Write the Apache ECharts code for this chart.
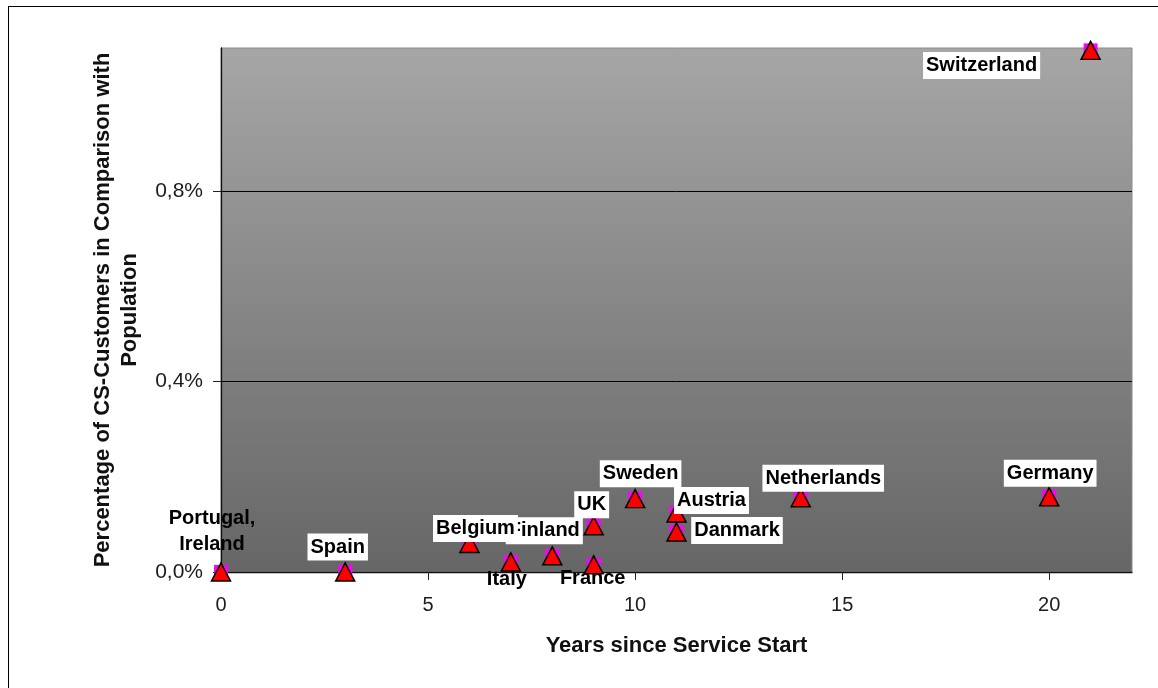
<!DOCTYPE html>
<html>
<head>
<meta charset="utf-8">
<script src="https://cdn.jsdelivr.net/npm/echarts@6/dist/echarts.min.js"></script>
<style>
  html, body { margin: 0; padding: 0; background: #fff; }
  #frame { position: absolute; left: 8px; top: 6px; width: 1200px; height: 800px;
           border-left: 1px solid #000; border-top: 1px solid #000; }
  #chart { position: absolute; left: 0; top: 0; width: 1158px; height: 688px; }
</style>
</head>
<body>
<div id="frame"></div>
<div id="chart"></div>
<script>
// ---- data ----
const countries = ['Portugal,\nIreland', 'Spain', 'Italy', 'Finland', 'Belgium', 'France', 'UK',
                   'Sweden', 'Austria', 'Danmark', 'Netherlands', 'Germany', 'Switzerland'];
const yearsSinceStart = [0, 3, 7, 8, 6, 9, 9, 10, 11, 11, 14, 20, 21];
const customerShare = [0.0, 0.0, 0.021, 0.034, 0.06, 0.015, 0.097, 0.154, 0.124, 0.084, 0.156, 0.158, 1.095];
const yTickValues = [0, 0.4, 0.8];
const xTickValues = [0, 5, 10, 15, 20];

// ---- label layout (offsets in px from each point) ----
const labelLayout = {
  'Portugal,\nIreland': { offset: [-9, -41], box: false },
  'Spain': { offset: [-7.5, -25], box: true },
  'Belgium': { offset: [6, -15], box: true },
  'Italy': { offset: [-4, 17], box: false },
  'Finland': { offset: [-8, -25], box: true },
  'France': { offset: [-1, 14], box: false },
  'UK': { offset: [-2, -21], box: true },
  'Sweden': { offset: [5.5, -25], box: true },
  'Austria': { offset: [35, -12.5], box: true },
  'Danmark': { offset: [60.5, -1.5], box: true },
  'Netherlands': { offset: [22.5, -19.5], box: true },
  'Germany': { offset: [1, -23.5], box: true },
  'Switzerland': { offset: [-109, 15], box: true }
};

const points = countries.map((c, i) => [yearsSinceStart[i], customerShare[i]]);

const triangleData = countries.map((c, i) => {
  const l = labelLayout[c];
  return {
    value: points[i],
    name: c,
    label: {
      show: true,
      position: 'inside',
      offset: l.offset,
      formatter: c,
      lineHeight: l.box ? 22 : 26,
      backgroundColor: l.box ? '#ffffff' : 'transparent',
      padding: l.box ? [3, 3, 2, 3] : 0
    }
  };
});

const chart = echarts.init(document.getElementById('chart'), null, { renderer: 'canvas' });
const fmtPct = v => v.toFixed(1).replace('.', ',') + '%';

chart.setOption({
  animation: false,
  grid: {
    left: 221, right: 26, top: 48, bottom: 116,
    show: true,
    borderColor: '#8a8a8a',
    borderWidth: 1,
    backgroundColor: new echarts.graphic.LinearGradient(0, 0, 0, 1, [
      { offset: 0, color: '#a6a6a6' },
      { offset: 1, color: '#666666' }
    ])
  },
  xAxis: {
    type: 'value',
    min: 0, max: 22, interval: 5,
    name: 'Years since Service Start',
    nameLocation: 'middle',
    nameGap: 63,
    nameTextStyle: { fontFamily: 'Liberation Sans', fontWeight: 'bold', fontSize: 22, color: '#111' },
    axisLine: { show: true, onZero: false, lineStyle: { color: '#111', width: 1.3 } },
    axisTick: { show: true, length: 8, inside: false, customValues: xTickValues, lineStyle: { color: '#222' } },
    axisLabel: { margin: 23, fontFamily: 'Liberation Sans', fontSize: 20, color: '#1c1c1c',
                 customValues: xTickValues, formatter: v => String(v) },
    splitLine: { show: false }
  },
  yAxis: {
    type: 'value',
    min: 0, max: 1.1, interval: 0.4,
    name: 'Percentage of CS-Customers in Comparison with\nPopulation',
    nameLocation: 'middle',
    nameGap: 78,
    nameRotate: 90,
    nameTextStyle: { fontFamily: 'Liberation Sans', fontWeight: 'bold', fontSize: 22, color: '#111', lineHeight: 27, align: 'center' },
    axisLine: { show: true, lineStyle: { color: '#111', width: 1.3 } },
    axisTick: { show: true, length: 8, inside: false, customValues: yTickValues, lineStyle: { color: '#222' } },
    axisLabel: { margin: 18, fontFamily: 'Liberation Sans', fontSize: 21, color: '#1c1c1c',
                 customValues: yTickValues,
                 formatter: v => (Math.abs(Math.round(v * 10) % 4) === 0 ? fmtPct(v) : '') },
    splitLine: { show: true, lineStyle: { color: '#000', width: 1 } }
  },
  series: [
    {
      type: 'scatter',
      name: 'squares',
      symbol: 'rect',
      symbolSize: 14,
      itemStyle: { color: '#ff00ff', opacity: 1 },
      data: points,
      z: 2
    },
    {
      type: 'scatter',
      name: 'triangles',
      symbol: 'triangle',
      symbolSize: [19, 18],
      itemStyle: { color: '#ff0000', borderColor: '#000', borderWidth: 1.5, opacity: 1 },
      label: {
        fontFamily: 'Liberation Sans',
        fontWeight: 'bold',
        fontSize: 20,
        color: '#000',
        align: 'center',
        verticalAlign: 'middle'
      },
      data: triangleData,
      z: 3
    }
  ]
});
</script>
</body>
</html>
